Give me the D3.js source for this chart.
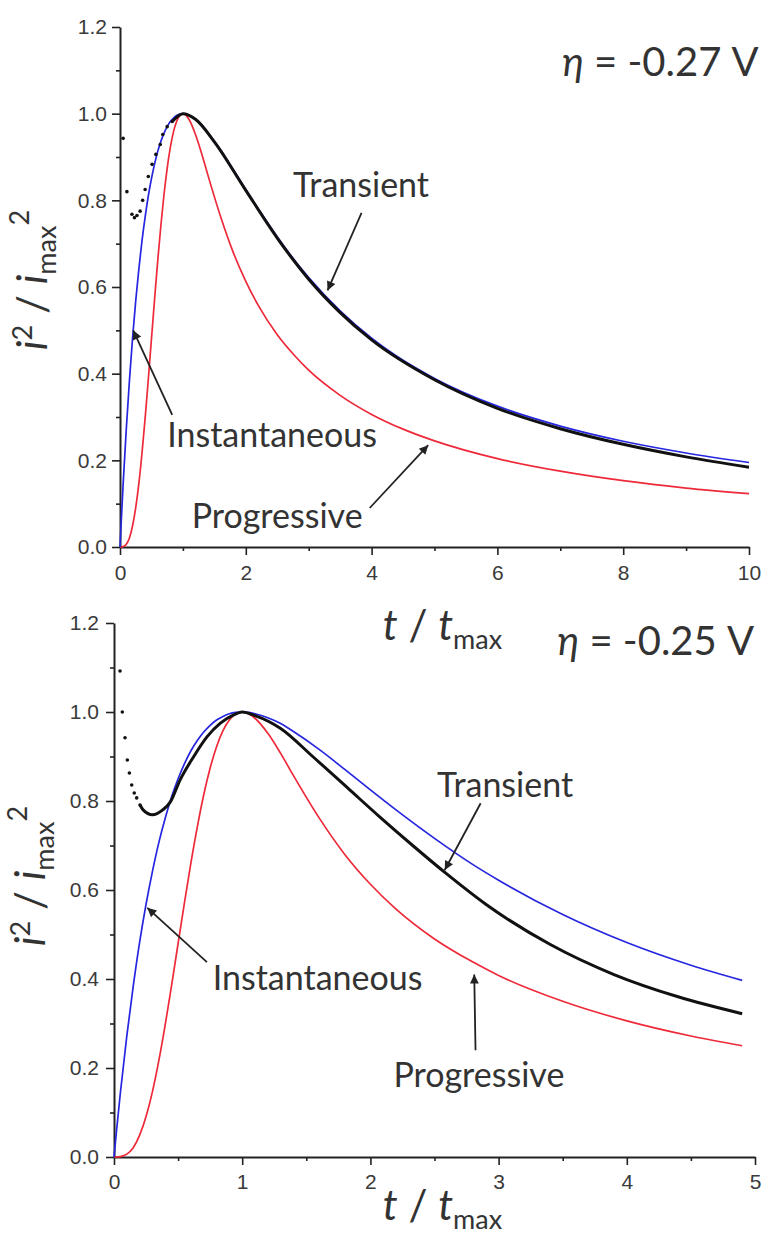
<!DOCTYPE html>
<html>
<head>
<meta charset="utf-8">
<script src="https://cdn.jsdelivr.net/npm/d3@7"></script>
<style>
  body { margin: 0; background: #fff; }
  .tick text { font-family: "Liberation Sans", Arial, sans-serif; font-size: 21px; fill: #3a3a3a; }
  .ann { font-family: Lato, "Open Sans", sans-serif; fill: #333; }
</style>
</head>
<body>
<div id="chart"></div>
<script>
// theoretical Scharifker-Hills curves (t/tmax, i^2/imax^2)
var tTheory = [0, 0.02, 0.05, 0.1, 0.15, 0.2, 0.25, 0.3, 0.35, 0.4, 0.45, 0.5, 0.55, 0.6, 0.65, 0.7, 0.75, 0.8, 0.85, 0.9, 0.95,
  1.0, 1.05, 1.1, 1.2, 1.3, 1.4, 1.6, 1.8, 2.0, 2.2, 2.5, 2.8, 3.0, 3.5, 4.0, 4.5, 4.9, 5, 6, 7, 8, 9, 10];
var instTheory = [0, 0.060, 0.145, 0.272, 0.384, 0.483, 0.568, 0.642, 0.707, 0.762, 0.810, 0.850, 0.884, 0.913, 0.936, 0.955, 0.970, 0.982, 0.990, 0.996, 0.999,
  1.0, 0.999, 0.996, 0.987, 0.974, 0.956, 0.916, 0.871, 0.825, 0.780, 0.716, 0.657, 0.622, 0.545, 0.482, 0.431, 0.397, 0.389, 0.325, 0.279, 0.244, 0.217, 0.195];
var progTheory = [0, 0, 0.001, 0.0065, 0.021, 0.049, 0.091, 0.147, 0.217, 0.298, 0.387, 0.480, 0.572, 0.661, 0.742, 0.814, 0.874, 0.922, 0.958, 0.982, 0.996,
  1.0, 0.996, 0.986, 0.952, 0.907, 0.857, 0.762, 0.680, 0.613, 0.557, 0.490, 0.438, 0.408, 0.350, 0.306, 0.272, 0.250, 0.245, 0.204, 0.175, 0.153, 0.136, 0.123];

// experimental transient, eta = -0.27 V
var tDotsTop = [0.05, 0.11, 0.19, 0.23, 0.27, 0.32, 0.36, 0.40, 0.45, 0.51, 0.57, 0.64, 0.68, 0.75, 0.83];
var vDotsTop = [0.943, 0.82, 0.768, 0.760, 0.765, 0.775, 0.80, 0.825, 0.855, 0.883, 0.906, 0.929, 0.952, 0.970, 0.982];
var tLineTop = [0.83, 0.91, 1.0, 1.2, 1.5, 2, 2.5, 3, 3.5, 4, 5, 6, 7, 8, 9, 10];
var vLineTop = [0.982, 0.993, 1.0, 0.987, 0.935, 0.823, 0.713, 0.618, 0.541, 0.478, 0.386, 0.320, 0.273, 0.237, 0.208, 0.184];

// experimental transient, eta = -0.25 V
var tDotsBot = [0.047, 0.065, 0.086, 0.104, 0.12, 0.138, 0.158, 0.177, 0.203];
var vDotsBot = [1.092, 1.0, 0.942, 0.892, 0.863, 0.836, 0.818, 0.807, 0.791];
var tLineBot = [0.203, 0.227, 0.30, 0.38, 0.44, 0.515, 0.62, 0.725, 0.83, 0.93, 1.0, 1.1, 1.3, 1.55, 1.82, 2.07, 2.33, 2.6, 2.9, 3.4, 3.9, 4.4, 4.9];
var vLineBot = [0.791, 0.78, 0.769, 0.78, 0.798, 0.847, 0.899, 0.944, 0.975, 0.993, 1.0, 0.992, 0.963, 0.900, 0.830, 0.765, 0.700, 0.635, 0.568, 0.478, 0.410, 0.360, 0.322];

// ticks
var yTicks = [0, 0.2, 0.4, 0.6, 0.8, 1.0, 1.2];
var yMinor = [0.1, 0.3, 0.5, 0.7, 0.9, 1.1];
var xTicksTop = [0, 2, 4, 6, 8, 10];
var xMinorTop = [1, 3, 5, 7, 9];
var xTicksBot = [0, 1, 2, 3, 4, 5];
var xMinorBot = [0.5, 1.5, 2.5, 3.5, 4.5];

// annotations: text start + arrow tail/tip, in data units
var annTop = [
  { label: "Transient", x: 2.75, y: 0.808, from: [3.84, 0.771], to: [3.30, 0.592] },
  { label: "Instantaneous", x: 0.75, y: 0.231, from: [0.83, 0.305], to: [0.21, 0.50] },
  { label: "Progressive", x: 1.14, y: 0.044, from: [3.97, 0.09], to: [4.9, 0.235] }
];
var annBot = [
  { label: "Transient", x: 2.52, y: 0.809, from: [2.86, 0.795], to: [2.58, 0.645] },
  { label: "Instantaneous", x: 0.77, y: 0.375, from: [0.725, 0.438], to: [0.26, 0.56] },
  { label: "Progressive", x: 2.18, y: 0.157, from: [2.82, 0.24], to: [2.81, 0.41] }
];

var width = 764, height = 1235;
var svg = d3.select("#chart").append("svg")
  .attr("width", width)
  .attr("height", height);

svg.append("defs").append("marker")
  .attr("id", "arrow")
  .attr("viewBox", "0 0 10 10")
  .attr("refX", 10).attr("refY", 5)
  .attr("markerWidth", 12).attr("markerHeight", 9)
  .attr("markerUnits", "userSpaceOnUse")
  .attr("orient", "auto")
  .append("path").attr("d", "M0,0L10,5L0,10z").attr("fill", "#222");

function zip(a, b) { return a.map(function(d, i) { return [d, b[i]]; }); }

function drawPanel(p) {
  var x = d3.scaleLinear().domain([0, p.xMax]).range([p.left, p.right]);
  var y = d3.scaleLinear().domain([0, 1.2]).range([p.bottom, p.top]);

  // minor ticks
  svg.append("g")
    .attr("transform", "translate(0," + p.bottom + ")")
    .call(d3.axisBottom(x).tickValues(p.xMinor).tickSize(4).tickFormat(""))
    .call(function(g) { g.select(".domain").remove(); });
  svg.append("g")
    .attr("transform", "translate(" + p.left + ",0)")
    .call(d3.axisLeft(y).tickValues(yMinor).tickSize(4).tickFormat(""))
    .call(function(g) { g.select(".domain").remove(); });

  svg.append("g")
    .attr("transform", "translate(0," + p.bottom + ")")
    .call(d3.axisBottom(x).tickValues(p.xTicks).tickSize(8).tickSizeOuter(0).tickPadding(p.xPad).tickFormat(d3.format("d")));
  svg.append("g")
    .attr("transform", "translate(" + p.left + ",0)")
    .call(d3.axisLeft(y).tickValues(yTicks).tickSize(8).tickSizeOuter(0).tickPadding(p.yPad).tickFormat(d3.format(".1f")));
  svg.selectAll(".domain").attr("stroke", "#222").attr("stroke-width", 2);
  svg.selectAll(".tick line").attr("stroke", "#222").attr("stroke-width", 1.6);

  var line = d3.line()
    .x(function(d) { return x(d[0]); })
    .y(function(d) { return y(d[1]); })
    .curve(d3.curveMonotoneX);

  var inst = zip(tTheory, instTheory).filter(function(d) { return d[0] <= p.tEnd; });
  var prog = zip(tTheory, progTheory).filter(function(d) { return d[0] <= p.tEnd; });

  svg.append("path").datum(prog)
    .attr("d", line).attr("fill", "none").attr("stroke", "#ee2a3a").attr("stroke-width", 1.7);
  svg.append("path").datum(inst)
    .attr("d", line).attr("fill", "none").attr("stroke", "#2626e0").attr("stroke-width", 1.7);

  svg.append("path").datum(zip(p.lineT, p.lineV))
    .attr("d", line).attr("fill", "none").attr("stroke", "#111").attr("stroke-width", 3);
  svg.selectAll(null).data(zip(p.dotT, p.dotV)).enter().append("circle")
    .attr("cx", function(d) { return x(d[0]); })
    .attr("cy", function(d) { return y(d[1]); })
    .attr("r", 1.8).attr("fill", "#111");

  // annotations
  p.ann.forEach(function(a) {
    svg.append("line")
      .attr("x1", x(a.from[0])).attr("y1", y(a.from[1]))
      .attr("x2", x(a.to[0])).attr("y2", y(a.to[1]))
      .attr("stroke", "#222").attr("stroke-width", 1.8)
      .attr("marker-end", "url(#arrow)");
    svg.append("text").attr("class", "ann")
      .attr("x", x(a.x)).attr("y", y(a.y))
      .style("font-size", "34px")
      .text(a.label);
  });

  // eta label
  var eta = svg.append("text").attr("class", "ann")
    .attr("x", x(p.etaPos[0])).attr("y", y(p.etaPos[1]))
    .style("font-size", "40px");
  eta.append("tspan").style("font-style", "italic").text("η");
  eta.append("tspan").text(" = " + p.eta + " V");

  // y title
  var yt = svg.append("text").attr("class", "ann")
    .attr("transform", "translate(" + p.yTitleX + "," + p.yTitleY + ") rotate(-90)")
    .attr("text-anchor", "middle")
    .style("font-size", "42px");
  yt.append("tspan").style("font-style", "italic").text("i");
  yt.append("tspan").attr("dy", -15).style("font-size", "27px").text("2");
  yt.append("tspan").attr("dy", 15).text(" / ");
  yt.append("tspan").style("font-style", "italic").text("i");
  yt.append("tspan").attr("dy", 9).style("font-size", "27px").text("max");
  yt.append("tspan").attr("dy", -27).style("font-size", "27px").text("2");

  // x title
  var xt = svg.append("text").attr("class", "ann")
    .attr("x", (p.left + p.right) / 2 + 8).attr("y", p.xTitleY)
    .attr("text-anchor", "middle")
    .style("font-size", "42px");
  xt.append("tspan").style("font-style", "italic").text("t");
  xt.append("tspan").text(" / ");
  xt.append("tspan").style("font-style", "italic").text("t");
  xt.append("tspan").attr("dy", 9).style("font-size", "27px").text("max");
}

drawPanel({
  left: 120, right: 749, top: 27, bottom: 547, xMax: 10, tEnd: 10,
  xTicks: xTicksTop, xMinor: xMinorTop, xPad: 10, yPad: 5,
  dotT: tDotsTop, dotV: vDotsTop, lineT: tLineTop, lineV: vLineTop,
  ann: annTop, eta: "-0.27", etaPos: [7.03, 1.087],
  yTitleX: 47, yTitleY: 280, xTitleY: 640
});
drawPanel({
  left: 114, right: 755, top: 623, bottom: 1157, xMax: 5, tEnd: 4.9,
  xTicks: xTicksBot, xMinor: xMinorBot, xPad: 9, yPad: 7,
  dotT: tDotsBot, dotV: vDotsBot, lineT: tLineBot, lineV: vLineBot,
  ann: annBot, eta: "-0.25", etaPos: [3.46, 1.128],
  yTitleX: 45, yTitleY: 876, xTitleY: 1220
});
</script>
</body>
</html>
